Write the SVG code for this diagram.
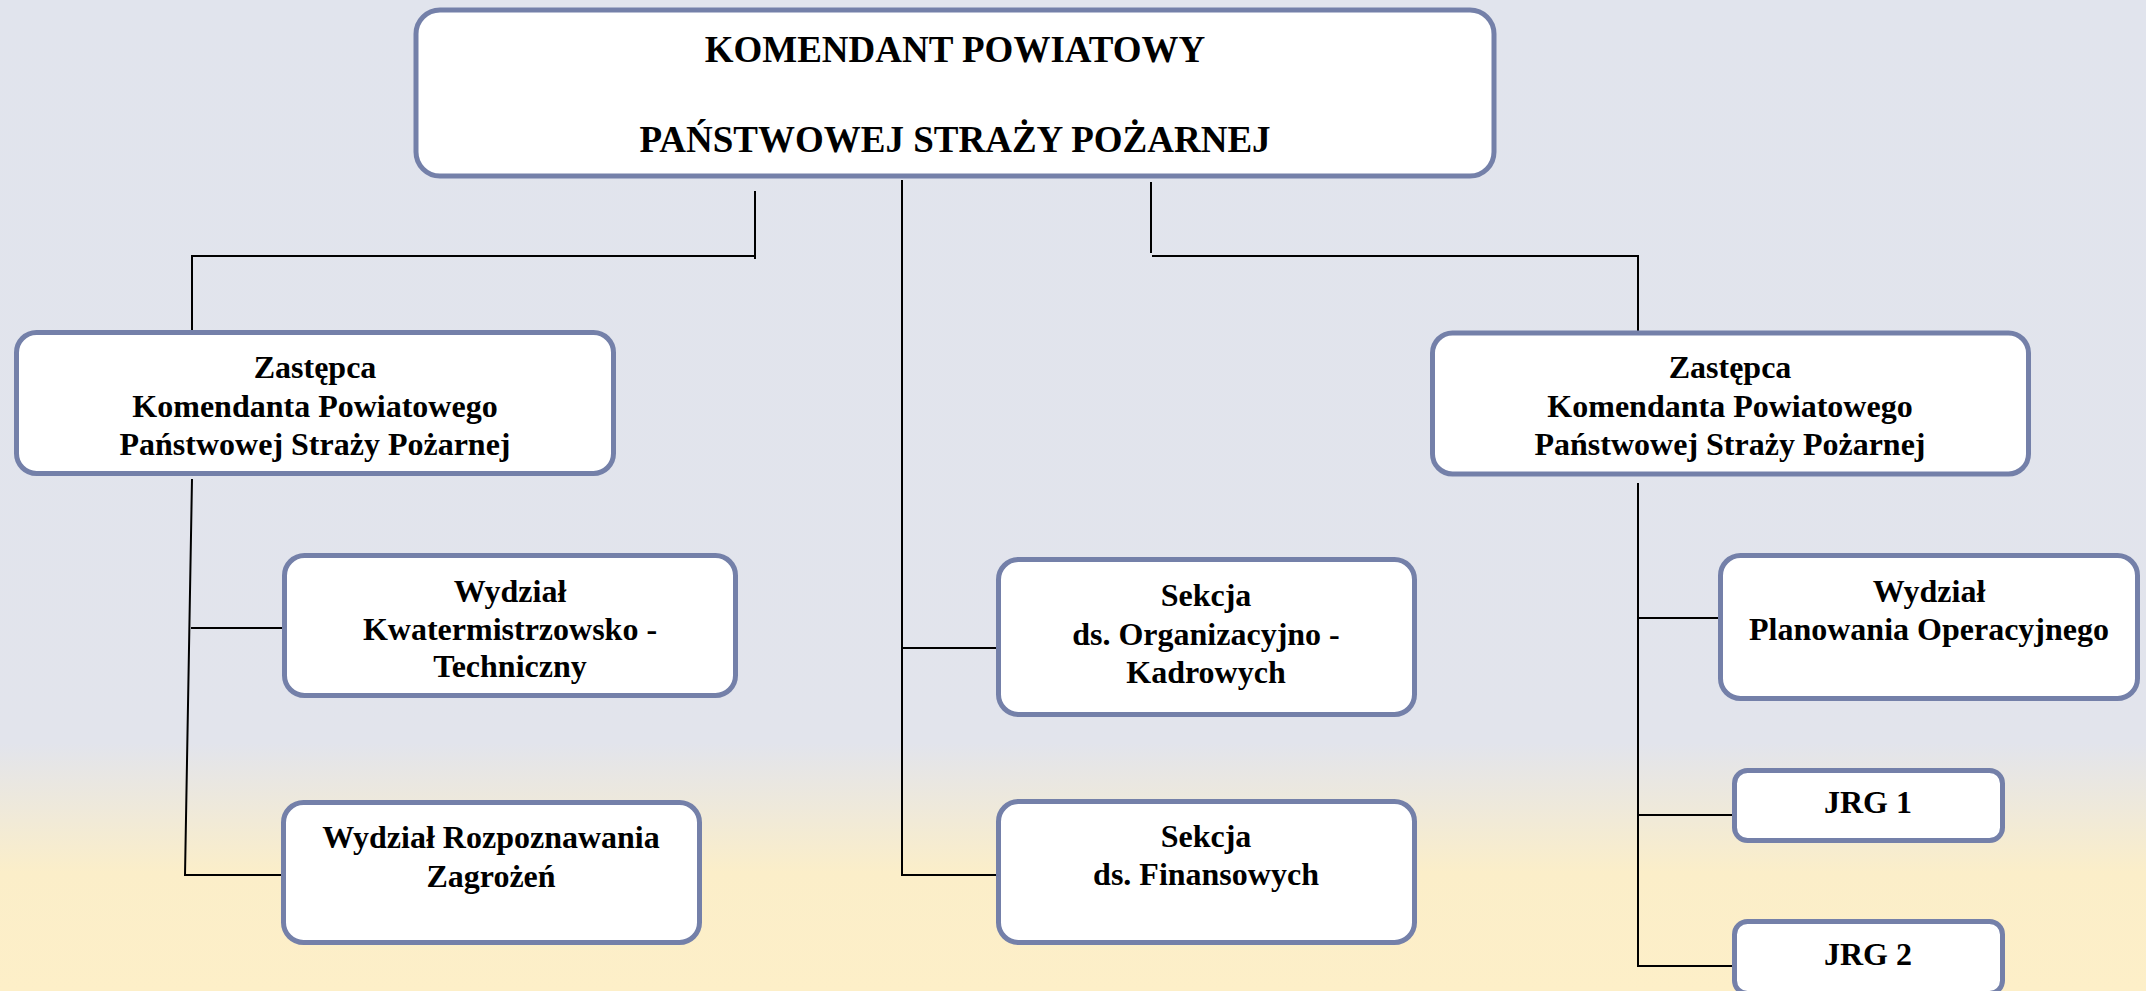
<svg xmlns="http://www.w3.org/2000/svg" width="2146" height="991" viewBox="0 0 2146 991">
<defs>
<linearGradient id="bg" x1="0" y1="0" x2="0" y2="1">
<stop offset="0" stop-color="#e1e4ed"/>
<stop offset="0.75" stop-color="#e2e4ec"/>
<stop offset="0.88" stop-color="#fbeec9"/>
<stop offset="1" stop-color="#fdefc8"/>
</linearGradient>
<style>
.box{fill:#ffffff;stroke:#7480a9;stroke-width:5}
.t{font-family:"Liberation Serif","Times New Roman",serif;font-weight:bold;font-size:32px;fill:#000;text-anchor:middle}
.tt{font-size:37px}
.c{fill:none;stroke:#000;stroke-width:2}
</style>
</defs>
<rect x="0" y="0" width="2146" height="991" fill="url(#bg)"/>
<g id="connectors">
<path class="c" d="M755,191 V259"/>
<path class="c" d="M755,256 H192 V330"/>
<path class="c" d="M902,180 V875 H996"/>
<path class="c" d="M902,648 H996"/>
<path class="c" d="M1151,182 V253"/>
<path class="c" d="M1152,256 H1638 V331"/>
<path class="c" d="M192,479 L185,875 H282"/>
<path class="c" d="M191,628 H282"/>
<path class="c" d="M1638,483 V966 H1732"/>
<path class="c" d="M1638,618 H1718"/>
<path class="c" d="M1638,815 H1732"/>
</g>
<g id="komendant">
<rect class="box" x="416" y="10" width="1078" height="166" rx="24"/>
<text class="t tt" x="955" y="62">KOMENDANT POWIATOWY</text>
<text class="t tt" x="955" y="152">PAŃSTWOWEJ STRAŻY POŻARNEJ</text>
</g>
<g id="zastepca-lewy">
<rect class="box" x="16.5" y="332.5" width="597" height="141" rx="20"/>
<text class="t" x="315" y="378">Zastępca</text>
<text class="t" x="315" y="417">Komendanta Powiatowego</text>
<text class="t" x="315" y="455">Państwowej Straży Pożarnej</text>
</g>
<g id="zastepca-prawy">
<rect class="box" x="1432.5" y="333" width="596" height="141" rx="20"/>
<text class="t" x="1730" y="378">Zastępca</text>
<text class="t" x="1730" y="417">Komendanta Powiatowego</text>
<text class="t" x="1730" y="455">Państwowej Straży Pożarnej</text>
</g>
<g id="wydzial-kwatermistrzowsko">
<rect class="box" x="284.5" y="555.5" width="451" height="140" rx="20"/>
<text class="t" x="510" y="602">Wydział</text>
<text class="t" x="510" y="640">Kwatermistrzowsko -</text>
<text class="t" x="510" y="677">Techniczny</text>
</g>
<g id="wydzial-rozpoznawania">
<rect class="box" x="283.5" y="802.5" width="416" height="140" rx="20"/>
<text class="t" x="491" y="848">Wydział Rozpoznawania</text>
<text class="t" x="491" y="887">Zagrożeń</text>
</g>
<g id="sekcja-organizacyjno">
<rect class="box" x="998.5" y="559.5" width="416" height="155" rx="20"/>
<text class="t" x="1206" y="606">Sekcja</text>
<text class="t" x="1206" y="645">ds. Organizacyjno -</text>
<text class="t" x="1206" y="683">Kadrowych</text>
</g>
<g id="sekcja-finansowych">
<rect class="box" x="998.5" y="801.5" width="416" height="141" rx="20"/>
<text class="t" x="1206" y="847">Sekcja</text>
<text class="t" x="1206" y="885">ds. Finansowych</text>
</g>
<g id="wydzial-planowania">
<rect class="box" x="1720.5" y="555.5" width="417" height="143" rx="20"/>
<text class="t" x="1929" y="602">Wydział</text>
<text class="t" x="1929" y="640">Planowania Operacyjnego</text>
</g>
<g id="jrg1">
<rect class="box" x="1734.5" y="770.5" width="268" height="70" rx="13"/>
<text class="t" x="1868" y="813">JRG 1</text>
</g>
<g id="jrg2">
<rect class="box" x="1734.5" y="921.5" width="268" height="72" rx="13"/>
<text class="t" x="1868" y="965">JRG 2</text>
</g>
</svg>
